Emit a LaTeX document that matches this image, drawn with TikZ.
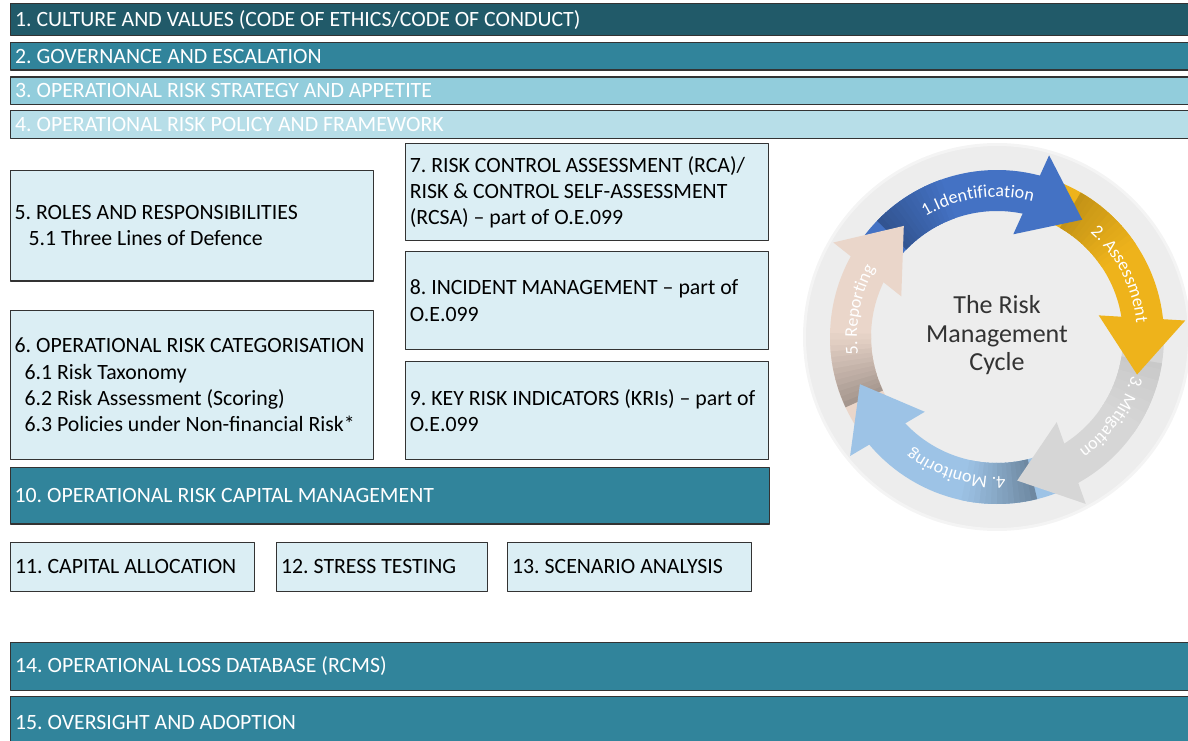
\documentclass[tikz,border=0pt]{standalone}
\usepackage{fontspec}
\setmainfont{Carlito}
\usetikzlibrary{decorations.text}
\frenchspacing
\hyphenpenalty=10000

\definecolor{tealdark}{HTML}{215A69}
\definecolor{tealmid}{HTML}{31849B}
\definecolor{teallight}{HTML}{92CDDC}
\definecolor{tealpale}{HTML}{B7DEE8}
\definecolor{boxblue}{HTML}{DBEEF4}
\definecolor{diskgray}{HTML}{EDEDED}
\definecolor{idblue}{HTML}{4472C4}
\definecolor{asgold}{HTML}{EEB31B}
\definecolor{mitgray}{HTML}{D6D6D6}
\definecolor{monblue}{HTML}{9DC3E6}
\definecolor{repbeige}{HTML}{EAD6CA}
\definecolor{titlegray}{HTML}{333333}

\newcommand{\boxfont}{\fontsize{21.8pt}{26.3pt}\selectfont}
\newcommand{\arrowfont}{\fontsize{18pt}{20pt}\selectfont}
\newcommand{\cyclefont}{\fontsize{26pt}{28.5pt}\selectfont}

\tikzset{
  topbar/.style={draw=black!80, line width=1.2pt, anchor=north west, inner xsep=4.5pt,
    inner ysep=0pt, text width=1180pt, align=flush left, text=white, font=\boxfont},
  infobox/.style={draw=black!80, line width=1.2pt, fill=boxblue, anchor=north west,
    inner xsep=4.5pt, inner ysep=0pt, align=flush left, font=\boxfont},
  band/.style={line width=41pt},
  arrowtext/.style={decorate, decoration={text along path, text align=center,
    text={|\arrowfont\color{white}|#1}}},
}

\begin{document}
\begin{tikzpicture}[x=1pt, y=1pt, line join=round]
\useasboundingbox (0,0) rectangle (1188,740);

% framework bars
\node[topbar, fill=tealdark, minimum height=32pt] (culture) at (10,737) {1. CULTURE AND VALUES (CODE OF ETHICS/CODE OF CONDUCT)};
\node[topbar, fill=tealmid, minimum height=27.5pt] (governance) at (10,698) {2. GOVERNANCE AND ESCALATION};
\node[topbar, fill=teallight, minimum height=27.5pt] (strategy) at (10,663.5) {3. OPERATIONAL RISK STRATEGY AND APPETITE};
\node[topbar, fill=tealpale, minimum height=28pt] (policy) at (10,630) {4. OPERATIONAL RISK POLICY AND FRAMEWORK};

% left column
\node[infobox, text width=354pt, minimum height=110.5pt] (roles) at (9.5,570)
  {5. ROLES AND RESPONSIBILITIES\\\hspace*{14pt}5.1 Three Lines of Defence};
\node[infobox, text width=354pt, minimum height=149pt] (categorisation) at (9.5,430)
  {6. OPERATIONAL RISK CATEGORISATION\\\hspace*{10pt}6.1 Risk Taxonomy\\\hspace*{10pt}6.2 Risk Assessment (Scoring)\\\hspace*{10pt}6.3 Policies under Non-financial Risk*};

% middle column
\node[infobox, text width=354.5pt, minimum height=96.7pt] (rcsa) at (404.7,596.7)
  {7. RISK CONTROL ASSESSMENT (RCA)/\\RISK \& CONTROL SELF-ASSESSMENT\\(RCSA) – part of O.E.099};
\node[infobox, text width=354.5pt, minimum height=98pt] (incident) at (404.7,489)
  {8. INCIDENT MANAGEMENT – part of\\O.E.099};
\node[infobox, text width=354.5pt, minimum height=98.3pt] (kri) at (404.7,379.3)
  {9. KEY RISK INDICATORS (KRIs) – part of\\O.E.099};

% capital management row
\node[infobox, fill=tealmid, text=white, text width=750pt, minimum height=56.7pt] (capital) at (9.5,273.3)
  {10. OPERATIONAL RISK CAPITAL MANAGEMENT};
\node[infobox, text width=235pt, minimum height=49pt] (allocation) at (10,198.3) {11. CAPITAL ALLOCATION};
\node[infobox, text width=202pt, minimum height=49pt] (stress) at (276,198.3) {12. STRESS TESTING};
\node[infobox, text width=235pt, minimum height=49pt] (scenario) at (507,198.3) {13. SCENARIO ANALYSIS};

% bottom bars
\node[topbar, fill=tealmid, minimum height=48.3pt] (lossdb) at (10,98.3) {14. OPERATIONAL LOSS DATABASE (RCMS)};
\node[topbar, fill=tealmid, minimum height=52pt] (oversight) at (10,44.3) {15. OVERSIGHT AND ADOPTION};

% risk management cycle
\coordinate (hub) at (997,403);
\fill[diskgray] (hub) circle[radius=192];
\draw[diskgray!60, line width=3pt] (hub) circle[radius=192.5];
\begin{scope}[shift={(hub)}]
  % bands first, with a darker start where the previous head sits
  \foreach \tip/\tail/\col/\depth in {54/144/idblue/26, -15/68/asgold/18, -82/-1/mitgray/6, -161/-68/monblue/30, 130/213/repbeige/30}{
    \draw[band, \col] ({\tail}:146.5) arc[start angle=\tail, end angle=\tip+19, radius=146.5];
    \foreach \k in {0,...,12}{
      \pgfmathsetmacro\ang{\tail-8-2*\k}
      \pgfmathtruncatemacro\dark{\depth*(13-\k)/13}
      \draw[band, black!\dark!\col] ({\ang}:146.5) arc[start angle=\ang, end angle=\ang-2.4, radius=146.5];
    }
  }
  % arrow heads on top
  \foreach \tip/\col in {54/idblue, -15/asgold, -82/mitgray, -161/monblue, 130/repbeige}
    \fill[\col] ({\tip+27}:104) -- ({\tip}:145) -- ({\tip+20}:189) -- cycle;
  % step names
  \path[arrowtext={1.Identification}] (143:140) arc[start angle=143, end angle=53, radius=140];
  \path[arrowtext={2. Assessment}] (72:140) arc[start angle=72, end angle=-18, radius=140];
  \path[arrowtext={3. Mitigation}] (10:140) arc[start angle=10, end angle=-80, radius=140];
  \path[arrowtext={4. Monitoring}] (-62:140) arc[start angle=-62, end angle=-152, radius=140];
  \path[arrowtext={5. Reporting}] (214:140) arc[start angle=214, end angle=124, radius=140];
\end{scope}
\node[font=\cyclefont, text=titlegray, align=center] (cycletitle) at (997,404.5) {The Risk\\Management\\Cycle};

\end{tikzpicture}
\end{document}
